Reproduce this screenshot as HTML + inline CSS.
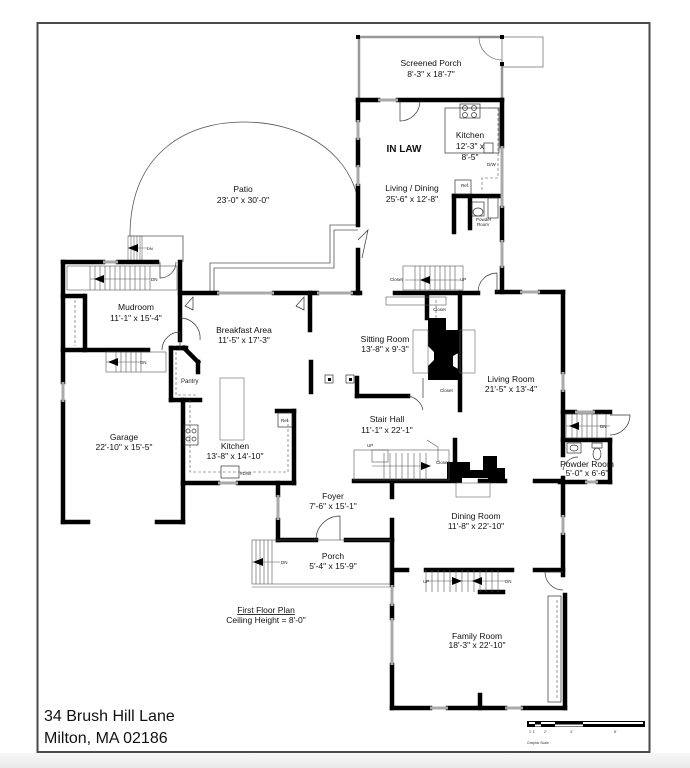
<!DOCTYPE html>
<html><head><meta charset="utf-8"><style>
html,body{margin:0;padding:0;background:#fff}
body{width:690px;height:768px;overflow:hidden;position:relative;font-family:"Liberation Sans",sans-serif}
svg{position:absolute;left:0;top:0}
</style></head><body>
<svg width="690" height="768" viewBox="0 0 690 768" xmlns="http://www.w3.org/2000/svg">
<defs><linearGradient id="g" x1="0" y1="0" x2="0" y2="1"><stop offset="0" stop-color="#f7f7f7"/><stop offset="1" stop-color="#e9e9e9"/></linearGradient></defs>
<rect x="0" y="0" width="690" height="768" fill="#fff"/>
<rect x="0" y="753" width="690" height="15" fill="url(#g)"/>
<rect x="37.5" y="23" width="612" height="729" fill="#fff" stroke="#4a4a4a" stroke-width="2"/>

<g fill="none" stroke="#555" stroke-width="0.8">
<path d="M130,232 C132,150 190,122 243,122 C300,122 345,150 357,195"/>
<line x1="130" y1="232" x2="130" y2="236"/>
<polyline points="128,236 183,236 183,262"/>
<polyline points="210,293 210,263 330,263 330,225 358,225"/>
<polyline points="214,293 214,268 334,268 334,230 358,230"/>
</g>
<g stroke="#666" stroke-width="0.6" fill="none">
<rect x="128" y="236" width="14" height="26"/>
<line x1="131" y1="236" x2="131" y2="262"/><line x1="134" y1="236" x2="134" y2="262"/><line x1="137" y1="236" x2="137" y2="262"/><line x1="140" y1="236" x2="140" y2="262"/>
<line x1="128" y1="248" x2="148" y2="248"/>
</g>
<polygon points="128,248 138,244 138,252" fill="#000"/>
<text x="147" y="250" font-size="4" fill="#000">DN</text>

<g stroke="#999" stroke-width="2.5" fill="none">
<line x1="358" y1="37" x2="502" y2="37"/>
<line x1="359" y1="37" x2="359" y2="100"/>
<line x1="502" y1="65" x2="502" y2="100"/>
</g>
<g stroke="#777" stroke-width="0.8" fill="none">
<rect x="502" y="37" width="41" height="30"/>
<path d="M502,37 L479,37 A23,23 0 0 0 502,60"/>
</g>
<rect x="356" y="35" width="4" height="4" fill="#000"/><rect x="500" y="35" width="4" height="4" fill="#000"/><rect x="500" y="62" width="4" height="4" fill="#000"/>

<g stroke="#000" stroke-width="4.5" fill="none" stroke-linecap="square">
<line x1="358" y1="100" x2="378" y2="100"/><line x1="398" y1="100" x2="502" y2="100"/>
<line x1="502" y1="100" x2="502" y2="146"/><line x1="502" y1="208" x2="502" y2="240"/><line x1="502" y1="268" x2="502" y2="292"/>
<line x1="358" y1="100" x2="358" y2="120"/><line x1="358" y1="140" x2="358" y2="165"/><line x1="358" y1="186" x2="358" y2="225"/><line x1="358" y1="250" x2="358" y2="293"/>
<line x1="395" y1="293" x2="478" y2="293"/>
<line x1="497" y1="292" x2="520" y2="292"/><line x1="540" y1="292" x2="563" y2="292"/>
<line x1="454" y1="196" x2="500" y2="196"/><line x1="454" y1="196" x2="454" y2="232"/><line x1="470" y1="196" x2="470" y2="228"/>
<line x1="180" y1="293" x2="217" y2="293"/><line x1="274" y1="293" x2="317" y2="293"/><line x1="353" y1="293" x2="360" y2="293"/>
<line x1="310" y1="293" x2="310" y2="330"/>
<line x1="563" y1="292" x2="563" y2="372"/><line x1="563" y1="392" x2="563" y2="455"/>
<line x1="563" y1="412" x2="575" y2="412"/><line x1="595" y1="412" x2="610" y2="412"/>
<line x1="563" y1="440" x2="610" y2="440"/>
<line x1="610" y1="440" x2="610" y2="482"/><line x1="560" y1="482" x2="585" y2="482"/><line x1="598" y1="482" x2="610" y2="482"/>
<line x1="563" y1="478" x2="563" y2="515"/><line x1="563" y1="535" x2="563" y2="575"/>
<line x1="565" y1="595" x2="565" y2="708"/>
<line x1="535" y1="570" x2="563" y2="570"/>
<line x1="392" y1="708" x2="430" y2="708"/><line x1="448" y1="708" x2="505" y2="708"/><line x1="523" y1="708" x2="565" y2="708"/>
<line x1="480" y1="695" x2="480" y2="708"/>
<line x1="392" y1="520" x2="392" y2="585"/><line x1="392" y1="606" x2="392" y2="618"/><line x1="392" y1="665" x2="392" y2="708"/>
<line x1="392" y1="483" x2="392" y2="497"/>
<line x1="394" y1="570" x2="407" y2="570"/><line x1="426" y1="570" x2="512" y2="570"/>
<line x1="480" y1="592" x2="503" y2="592"/>
<line x1="278" y1="483" x2="278" y2="495"/><line x1="278" y1="520" x2="278" y2="540"/>
<line x1="278" y1="540" x2="316" y2="540"/><line x1="346" y1="540" x2="392" y2="540"/>
<line x1="354" y1="481" x2="450" y2="481"/><line x1="480" y1="481" x2="505" y2="481"/><line x1="535" y1="481" x2="560" y2="481"/>
<line x1="311" y1="362" x2="311" y2="392"/>
<line x1="357" y1="378" x2="357" y2="396"/><line x1="357" y1="396" x2="408" y2="396"/>
<line x1="460" y1="293" x2="460" y2="410"/><line x1="427" y1="296" x2="427" y2="318"/>
<line x1="455" y1="440" x2="455" y2="481"/>
<line x1="183" y1="483" x2="218" y2="483"/><line x1="238" y1="483" x2="294" y2="483"/>
<line x1="294" y1="411" x2="294" y2="483"/><line x1="277" y1="411" x2="294" y2="411"/>
<line x1="183" y1="400" x2="183" y2="522"/>
<line x1="171" y1="348" x2="171" y2="400"/><line x1="171" y1="400" x2="200" y2="400"/><line x1="171" y1="348" x2="184" y2="348"/>
<line x1="184" y1="348" x2="198" y2="362"/><line x1="198" y1="362" x2="198" y2="372"/>
<line x1="180" y1="262" x2="180" y2="340"/>
<line x1="63" y1="262" x2="103" y2="262"/><line x1="118" y1="262" x2="157" y2="262"/>
<line x1="63" y1="262" x2="63" y2="382"/><line x1="63" y1="402" x2="63" y2="522"/>
<line x1="63" y1="522" x2="88" y2="522"/><line x1="157" y1="522" x2="183" y2="522"/>
<line x1="63" y1="350" x2="148" y2="350"/>
<line x1="85" y1="296" x2="85" y2="350"/><line x1="63" y1="296" x2="83" y2="296"/>
<line x1="178" y1="348" x2="186" y2="348"/>
</g>
<g fill="#000">
<path d="M428,318 L446,318 L446,330 L460,330 L460,352 L453,356 L453,366 L460,370 L460,380 L428,380 L428,366 L434,360 L434,352 L428,346 Z"/>
<path d="M447,462 L470,462 L470,470 L483,470 L483,456 L497,456 L497,468 L505,468 L505,483 L488,483 L488,478 L462,478 L462,483 L447,483 Z"/>
</g>
<g fill="none" stroke="#666" stroke-width="0.6">
<rect x="413" y="330" width="15" height="43"/><rect x="460" y="330" width="15" height="43"/>
<rect x="456" y="483" width="34" height="14"/>
<rect x="220" y="378" width="24" height="62"/>
</g>
<g stroke="#aaa" stroke-width="3">
<line x1="378" y1="100" x2="398" y2="100"/><line x1="358" y1="120" x2="358" y2="140"/><line x1="358" y1="165" x2="358" y2="186"/>
<line x1="502" y1="146" x2="502" y2="208"/><line x1="502" y1="240" x2="502" y2="268"/>
<line x1="520" y1="292" x2="540" y2="292"/><line x1="563" y1="372" x2="563" y2="392"/>
<line x1="575" y1="412" x2="595" y2="412"/><line x1="585" y1="482" x2="598" y2="482"/>
<line x1="563" y1="515" x2="563" y2="535"/>
<line x1="430" y1="708" x2="448" y2="708"/><line x1="505" y1="708" x2="523" y2="708"/>
<line x1="392" y1="585" x2="392" y2="606"/><line x1="392" y1="618" x2="392" y2="665"/>
<line x1="278" y1="495" x2="278" y2="520"/><line x1="218" y1="483" x2="238" y2="483"/>
<line x1="63" y1="382" x2="63" y2="402"/><line x1="103" y1="262" x2="118" y2="262"/>
<line x1="217" y1="293" x2="274" y2="293"/><line x1="317" y1="293" x2="353" y2="293"/>
</g>
<g fill="none" stroke="#333" stroke-width="0.7">
<path d="M400,100 L400,121 A20,20 0 0 0 420,101"/>
<path d="M478,292 A19,19 0 0 1 497,273 L497,292"/>
<path d="M358,240 L368,230 L362,258"/>
<path d="M563,590 A18,18 0 0 1 545,572 L563,572"/>
<path d="M316,540 A24,24 0 0 1 340,516 L340,540"/>
<path d="M162,350 A18,18 0 0 1 180,332 L180,350"/>
<path d="M180,318 A20,20 0 0 1 200,340"/>
<path d="M160,262 L160,278 A16,16 0 0 0 176,262"/>
<path d="M193,310 L193,297 L185,306 Z"/><path d="M304,310 L304,297 L296,306 Z"/>
<path d="M408,396 A18,18 0 0 1 423,410"/>
<path d="M423,378 L423,398"/>
<path d="M610,415 L630,415 A20,20 0 0 1 610,435"/>
<path d="M563,470 A15,15 0 0 1 578,457"/>
<rect x="445" y="108" width="54" height="45"/>
<rect x="460" y="104" width="20" height="14"/>
<circle cx="465" cy="108" r="2.5"/><circle cx="474" cy="108" r="2.5"/><circle cx="465" cy="115" r="2.5"/><circle cx="474" cy="115" r="2.5"/>
<rect x="484" y="143" width="9" height="10"/>
<rect x="455" y="180" width="16" height="14"/>
<rect x="472" y="202" width="12" height="14"/><ellipse cx="478" cy="212" rx="5" ry="4"/>
<rect x="488" y="198" width="10" height="20"/>
<rect x="567" y="443" width="14" height="10"/><ellipse cx="574" cy="448" rx="4" ry="3"/>
<rect x="592" y="443" width="10" height="5"/><ellipse cx="597" cy="454" rx="4" ry="6"/>
<rect x="548" y="596" width="13" height="106"/>
<rect x="278" y="413" width="14" height="14"/>
<rect x="184" y="425" width="14" height="20"/><circle cx="188" cy="431" r="2"/><circle cx="194" cy="431" r="2"/><circle cx="188" cy="439" r="2"/><circle cx="194" cy="439" r="2"/>
<rect x="221" y="466" width="18" height="12"/>
<rect x="325" y="375" width="8" height="8"/><rect x="346" y="375" width="8" height="8"/>
</g>
<g fill="#000"><rect x="328" y="378" width="3" height="3"/><rect x="349" y="378" width="3" height="3"/></g>
<g fill="none" stroke="#555" stroke-width="0.6" stroke-dasharray="3,2">
<path d="M488,108 L498,108 L498,178 L482,178 L482,192"/>
<path d="M190,400 L190,472 L288,472 L288,420"/>
<path d="M176,352 L176,395 L196,395"/>
<line x1="75" y1="300" x2="75" y2="346"/>
<line x1="557" y1="600" x2="557" y2="700"/>
<line x1="436" y1="300" x2="436" y2="318"/>
</g>
<g fill="none" stroke="#555" stroke-width="0.6">
<rect x="67" y="266" width="110" height="24"/>
<path d="M90,266 v24 M95,266 v24 M100,266 v24 M105,266 v24 M110,266 v24 M115,266 v24 M120,266 v24 M125,266 v24 M130,266 v24 M135,266 v24 M140,266 v24 M145,266 v24 M150,266 v24"/>
<line x1="90" y1="279" x2="150" y2="279"/>
<rect x="106" y="352" width="60" height="20"/>
<path d="M116,352 v20 M121,352 v20 M126,352 v20 M131,352 v20 M136,352 v20 M141,352 v20"/>
<line x1="106" y1="362" x2="140" y2="362"/>
<rect x="403" y="266" width="60" height="24"/>
<path d="M415,266 v24 M420,266 v24 M425,266 v24 M430,266 v24 M435,266 v24 M440,266 v24 M445,266 v24 M450,266 v24 M455,266 v24"/>
<line x1="405" y1="280" x2="460" y2="280"/>
<rect x="386" y="297" width="60" height="8"/>
<rect x="354" y="450" width="95" height="30"/>
<rect x="372" y="450" width="16" height="12"/>
<path d="M384,453 v27 M390,453 v27 M396,453 v27 M402,453 v27 M408,453 v27 M414,453 v27 M420,453 v27 M426,453 v27"/>
<line x1="372" y1="466" x2="430" y2="466"/>
<path d="M427,440 L438,447 L438,462"/>
<rect x="566" y="414" width="40" height="24"/>
<path d="M572,414 v24 M577,414 v24 M582,414 v24 M587,414 v24 M592,414 v24 M597,414 v24"/>
<line x1="566" y1="426" x2="610" y2="426"/>
<path d="M426,570 v22 M432,570 v22 M438,570 v22 M444,570 v22 M450,570 v22 M456,570 v22 M462,570 v22 M468,570 v22 M474,570 v22 M480,570 v22 M486,570 v22 M492,570 v22 M498,570 v22"/>
<line x1="426" y1="581" x2="505" y2="581"/>
<rect x="252" y="540" width="138" height="44"/>
<path d="M256,540 v44 M260,540 v44 M264,540 v44 M268,540 v44 M272,540 v44"/>
<line x1="252" y1="562" x2="280" y2="562"/>
<line x1="252" y1="587" x2="390" y2="587"/>
</g>
<g fill="#000">
<polygon points="94,279 104,275 104,283"/>
<polygon points="108,362 118,358 118,366"/>
<polygon points="420,280 430,276 430,284"/>
<polygon points="431,466 421,462 421,470"/>
<polygon points="569,426 579,422 579,430"/>
<polygon points="462,581 452,577 452,585"/>
<polygon points="472,581 482,577 482,585"/>
<polygon points="253,562 263,558 263,566"/>
</g>
<g font-size="4.5" fill="#222">
<text x="151" y="281">DN</text><text x="140" y="364">DN</text><text x="460" y="281">UP</text>
<text x="367" y="447">UP</text><text x="600" y="428">DN</text><text x="423" y="583">UP</text><text x="505" y="583">DN</text>
<text x="281" y="564">DN</text><text x="390" y="281">Closet</text><text x="433" y="311">Closet</text>
<text x="440" y="392">Closet</text><text x="436" y="464">Closet</text><text x="461" y="187">Ref.</text>
<text x="487" y="166">D/W</text><text x="476" y="221">Powder</text><text x="477" y="226">Room</text>
<text x="281" y="422">Ref</text><text x="240" y="475">#D/W</text>
</g>
<text x="181" y="383" font-size="6" fill="#222">Pantry</text>

<g font-size="8.5" fill="#111" text-anchor="middle">
<text x="431" y="66">Screened Porch</text><text x="431" y="77">8'-3" x 18'-7"</text>
<text x="470" y="138">Kitchen</text><text x="470" y="149">12'-3" x</text><text x="470" y="160">8'-5"</text>
<text x="412" y="191">Living / Dining</text><text x="412" y="202">25'-6" x 12'-8"</text>
<text x="243" y="192">Patio</text><text x="243" y="203">23'-0" x 30'-0"</text>
<text x="136" y="310">Mudroom</text><text x="136" y="321">11'-1" x 15'-4"</text>
<text x="244" y="333">Breakfast Area</text><text x="244" y="343">11'-5" x 17'-3"</text>
<text x="385" y="342">Sitting Room</text><text x="385" y="352">13'-8" x 9'-3"</text>
<text x="511" y="382">Living Room</text><text x="511" y="392">21'-5" x 13'-4"</text>
<text x="387" y="422">Stair Hall</text><text x="387" y="433">11'-1" x 22'-1"</text>
<text x="124" y="440">Garage</text><text x="124" y="450">22'-10" x 15'-5"</text>
<text x="235" y="449">Kitchen</text><text x="235" y="459">13'-8" x 14'-10"</text>
<text x="587" y="467">Powder Room</text><text x="587" y="476">5'-0" x 6'-6"</text>
<text x="333" y="499">Foyer</text><text x="333" y="509">7'-6" x 15'-1"</text>
<text x="476" y="519">Dining Room</text><text x="476" y="529">11'-8" x 22'-10"</text>
<text x="333" y="559">Porch</text><text x="333" y="569">5'-4" x 15'-9"</text>
<text x="477" y="639">Family Room</text><text x="477" y="648">18'-3" x 22'-10"</text>
<text x="266" y="613" text-decoration="underline">First Floor Plan</text>
<text x="266" y="623">Ceiling Height = 8'-0"</text>
</g>
<text x="404" y="152" font-size="10" font-weight="bold" text-anchor="middle" fill="#111">IN LAW</text>
<text x="44" y="721" font-size="16" fill="#111">34 Brush Hill Lane</text>
<text x="44" y="743" font-size="16" fill="#111">Milton, MA 02186</text>
<rect x="527" y="721" width="118" height="6" fill="#000"/>
<rect x="529" y="722" width="6" height="2" fill="#fff"/><rect x="535" y="724.5" width="6" height="2" fill="#fff"/>
<rect x="541" y="722" width="14" height="2" fill="#fff"/><rect x="555" y="724.5" width="28" height="2" fill="#fff"/><rect x="583" y="722" width="60" height="2" fill="#fff"/>
<g font-size="3.5" fill="#333"><text x="529" y="733">1' 1'</text><text x="544" y="733">2'</text><text x="570" y="733">4'</text><text x="614" y="733">8'</text><text x="527" y="744">Graphic Scale</text></g>
</svg>
</body></html>
